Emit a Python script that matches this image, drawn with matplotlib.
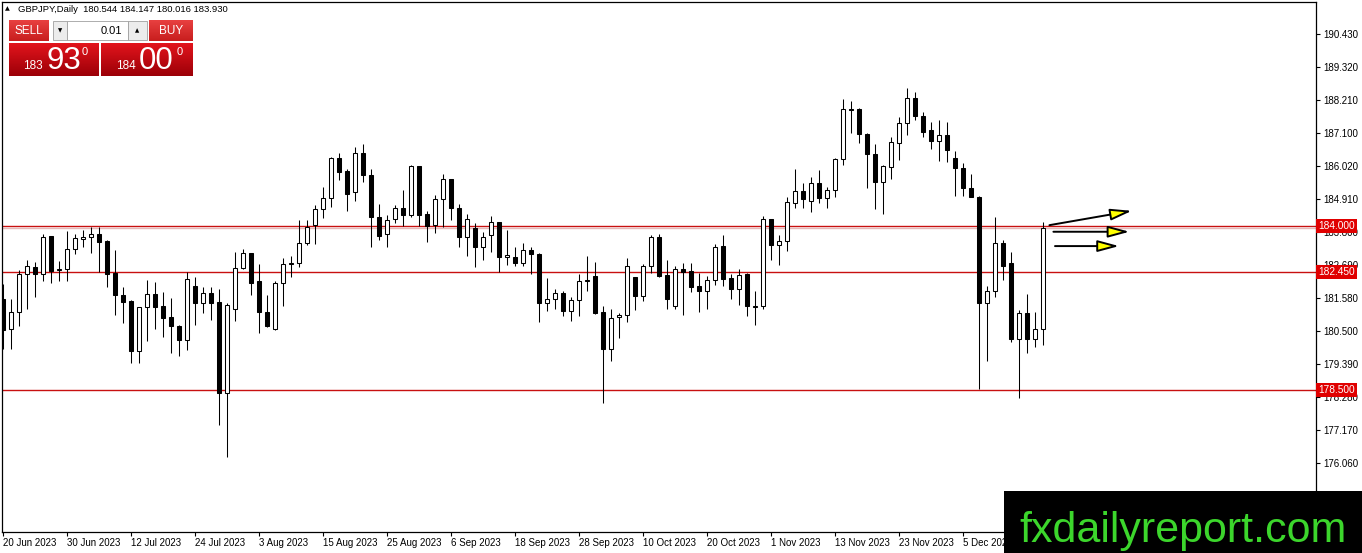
import numpy as np
import matplotlib
matplotlib.use('Agg')
import matplotlib.pyplot as plt
from matplotlib.patches import Rectangle, FancyArrowPatch
from matplotlib.colors import LinearSegmentedColormap
from matplotlib import font_manager

plt.rcParams['font.family'] = ['Liberation Sans', 'DejaVu Sans']
plt.rcParams['font.size'] = 7

symbol = 'GBPJPY,Daily'

# daily OHLC, 20 Jun 2023 .. 19 Dec 2023
opens = [181.56, 180.54, 181.14, 182.39, 182.62, 182.39, 183.66, 182.54, 182.55, 183.22,
         183.58, 183.62, 183.73, 183.51, 182.44, 181.68, 181.50, 179.83, 181.28, 181.71,
         181.32, 180.94, 180.65, 180.18, 181.99, 181.43, 181.75, 181.45, 178.40, 181.21,
         182.58, 183.09, 182.15, 181.14, 180.54, 182.10, 182.73, 182.75, 183.45, 184.03,
         184.56, 184.93, 186.27, 185.85, 185.13, 186.45, 185.71, 184.29, 183.72, 184.22,
         184.62, 184.38, 186.01, 184.40, 184.03, 184.89, 185.56, 184.62, 183.64, 183.92,
         183.31, 183.69, 184.13, 182.95, 182.95, 182.75, 183.20, 183.06, 181.43, 181.55,
         181.75, 181.16, 181.54, 182.16, 182.33, 181.12, 179.89, 180.94, 181.01, 182.28,
         181.67, 182.66, 183.62, 182.36, 181.32, 182.55, 182.48, 181.99, 181.83, 182.19,
         183.33, 182.25, 181.90, 182.39, 181.28, 181.32, 184.22, 183.35, 183.51, 184.76,
         185.18, 184.85, 185.43, 184.93, 185.21, 186.23, 187.91, 187.91, 187.08, 186.41,
         185.48, 185.99, 186.79, 187.44, 188.27, 187.68, 187.21, 186.86, 187.05, 186.29,
         185.93, 185.26, 184.96, 181.43, 181.84, 183.45, 182.75, 180.22, 181.08, 180.22,
         180.544]
highs = [182.05, 181.56, 182.53, 182.88, 182.79, 183.73, 183.66, 182.82, 183.82, 183.73,
         183.87, 183.98, 183.98, 183.55, 183.20, 181.95, 181.52, 181.30, 182.21, 182.12,
         181.79, 181.59, 180.69, 182.47, 182.30, 181.97, 181.97, 181.88, 181.43, 183.14,
         183.24, 183.11, 182.73, 181.69, 182.15, 182.92, 183.00, 184.20, 184.20, 184.70,
         185.32, 186.32, 186.43, 185.90, 186.63, 186.74, 185.90, 184.74, 184.37, 184.70,
         185.22, 186.04, 186.01, 184.50, 185.04, 185.74, 185.59, 184.74, 184.42, 184.09,
         183.81, 184.34, 184.13, 183.87, 183.29, 183.44, 183.29, 183.09, 182.25, 181.91,
         181.83, 181.61, 182.39, 183.00, 182.79, 181.32, 181.24, 181.08, 182.93, 182.28,
         182.73, 183.71, 183.75, 182.88, 182.68, 182.77, 182.77, 182.44, 182.33, 183.40,
         183.71, 182.39, 182.55, 182.44, 181.83, 184.33, 184.25, 183.70, 184.98, 185.90,
         185.43, 185.63, 185.87, 185.30, 186.27, 188.24, 188.20, 187.94, 187.12, 186.75,
         186.04, 186.97, 187.64, 188.61, 188.50, 187.83, 187.50, 187.55, 187.48, 186.50,
         186.12, 185.75, 185.00, 181.99, 184.29, 183.55, 183.12, 181.19, 181.72, 181.13,
         184.147]
lows = [179.87, 179.87, 180.65, 181.21, 181.63, 182.17, 182.10, 182.17, 182.15, 183.06,
        183.29, 183.11, 182.46, 181.97, 181.03, 180.74, 179.43, 179.43, 180.16, 180.54,
        180.29, 179.76, 179.65, 179.85, 180.69, 181.08, 180.85, 177.34, 176.28, 180.83,
        182.55, 181.69, 180.41, 180.61, 180.52, 181.33, 182.30, 182.64, 183.35, 183.40,
        184.26, 184.65, 185.54, 184.51, 184.85, 185.49, 183.31, 183.53, 183.31, 184.11,
        184.00, 184.31, 184.00, 183.48, 183.78, 183.98, 184.20, 183.31, 183.01, 182.62,
        182.88, 183.14, 182.47, 182.69, 182.66, 182.66, 182.41, 180.80, 181.17, 181.24,
        180.99, 180.83, 180.99, 181.83, 181.05, 178.09, 179.49, 180.24, 180.80, 181.19,
        181.50, 182.44, 182.28, 181.21, 181.24, 181.03, 181.80, 181.13, 181.21, 182.02,
        181.99, 181.57, 181.35, 180.99, 180.69, 181.24, 182.86, 182.69, 183.17, 184.62,
        184.62, 184.48, 184.78, 184.59, 184.96, 186.04, 187.12, 186.77, 185.26, 184.56,
        184.40, 185.56, 186.21, 187.05, 187.55, 186.99, 186.57, 186.19, 186.15, 185.00,
        185.00, 184.96, 178.56, 179.49, 181.63, 182.19, 180.13, 178.26, 179.76, 179.96,
        180.016]
closes = [180.52, 181.14, 182.39, 182.66, 182.39, 183.62, 182.50, 182.56, 183.22, 183.59,
          183.62, 183.73, 183.48, 182.41, 181.68, 181.47, 179.83, 181.28, 181.71, 181.28,
          180.93, 180.65, 180.18, 182.22, 181.43, 181.75, 181.43, 178.40, 181.36, 182.58,
          183.09, 182.10, 181.13, 180.66, 182.10, 182.72, 182.75, 183.45, 183.96, 184.56,
          184.93, 186.27, 185.82, 185.09, 186.45, 185.70, 184.29, 183.68, 184.20, 184.62,
          184.38, 186.01, 184.38, 184.00, 184.89, 185.56, 184.62, 183.64, 184.22, 183.31,
          183.64, 184.12, 182.95, 183.02, 182.75, 183.20, 183.05, 181.43, 181.55, 181.75,
          181.16, 181.54, 182.16, 182.18, 181.08, 179.89, 180.92, 181.02, 182.68, 181.67,
          182.66, 183.62, 182.33, 181.57, 182.55, 182.46, 181.97, 181.83, 182.21, 183.31,
          182.24, 181.90, 182.37, 181.32, 181.34, 184.22, 183.35, 183.51, 184.81, 185.18,
          184.89, 185.43, 184.93, 185.21, 186.23, 187.91, 187.89, 187.07, 186.41, 185.48,
          186.02, 186.81, 187.46, 188.27, 187.69, 187.16, 186.86, 187.04, 186.54, 185.93,
          185.26, 184.96, 181.43, 181.84, 183.45, 182.66, 180.22, 181.08, 180.22, 180.54,
          183.930]

date_labels = ['20 Jun 2023', '30 Jun 2023', '12 Jul 2023', '24 Jul 2023', '3 Aug 2023',
               '15 Aug 2023', '25 Aug 2023', '6 Sep 2023', '18 Sep 2023', '28 Sep 2023',
               '10 Oct 2023', '20 Oct 2023', '1 Nov 2023', '13 Nov 2023', '23 Nov 2023',
               '5 Dec 2023']
price_ticks = [190.430, 189.320, 188.210, 187.100, 186.020, 184.910, 183.800,
               182.690, 181.580, 180.500, 179.390, 178.280, 177.170, 176.060]
levels = [184.000, 182.450, 178.500]
bid = 183.930
ask = 184.000

# arrows drawn on the chart: (bar from, price from, bar to, price to)
arrows = [(130.8, 184.03, 141.1, 184.51),
          (131.3, 183.81, 140.8, 183.81),
          (131.5, 183.33, 139.5, 183.33)]

W, H = 1362, 553
fig = plt.figure(figsize=(W / 100, H / 100), dpi=100)
fig.patch.set_facecolor('white')
ax = fig.add_axes([2 / W, 21 / H, 1314 / W, 530 / H])

o = np.array(opens)
h = np.array(highs)
l = np.array(lows)
c = np.array(closes)
x = np.arange(len(o))
up = c >= o

ax.vlines(x, l, h, color='black', lw=0.75, zorder=2)
bottoms = np.minimum(o, c)
heights = np.maximum(np.abs(c - o), 0.01)
ax.bar(x, heights, bottom=bottoms, width=0.58,
       color=np.where(up, 'white', 'black'), edgecolor='black', lw=0.75, zorder=3)

for lv in levels:
    ax.axhline(lv, color='#c81010', lw=1.0, zorder=1)
ax.axhline(bid, color='#e6b8b8', lw=1.0, zorder=1)

for x0, y0, x1, y1 in arrows:
    arr = FancyArrowPatch((x0, y0), (x1, y1),
                          arrowstyle='-|>,head_length=1.3,head_width=0.35',
                          mutation_scale=10, fc='#ffff00', ec='black', lw=1.4,
                          shrinkA=0, shrinkB=0, zorder=5)
    ax.add_patch(arr)

ax.set_xlim(-0.125, 164.125)
ax.set_ylim(173.76, 191.50)

ax.set_xticks(np.arange(len(date_labels)) * 8)
ax.set_xticklabels(date_labels)
for lab in ax.get_xticklabels():
    lab.set_horizontalalignment('left')
ax.set_yticks(price_ticks)
ax.set_yticklabels(['%.3f' % p for p in price_ticks])
ax.tick_params(axis='x', direction='out', length=3, width=0.8, pad=1.5, labelsize=7)
ax.tick_params(axis='y', left=False, right=True, labelleft=False, labelright=True,
               direction='out', length=3, width=0.8, pad=2.5, labelsize=7)
for sp in ax.spines.values():
    sp.set_color('black')
    sp.set_linewidth(0.9)

ytr = ax.get_yaxis_transform()
for lv in levels:
    ax.text(1.0016, lv, '%.3f' % lv, transform=ytr, color='white', fontsize=7.3,
            ha='left', va='center', clip_on=False, zorder=6,
            bbox=dict(boxstyle='square,pad=0.2', fc='#e00000', ec='none'))

# overlay in pixel coordinates for the trade panel, header and logo
ov = fig.add_axes([0, 0, 1, 1], zorder=10)
ov.set_facecolor('none')
ov.axis('off')


def grad_box(x0, y0, x1, y1, top, bottom):
    cmap = LinearSegmentedColormap.from_list('g', [top, bottom])
    ov.imshow(np.linspace(0, 1, 32).reshape(-1, 1), cmap=cmap,
              extent=(x0, x1, y1, y0), aspect='auto', interpolation='bilinear', zorder=1)


ov.text(5, 9, '\u25b2', fontsize=4.5, family=['DejaVu Sans'], va='center', ha='left')
ov.text(18, 9, '%s  %.3f %.3f %.3f %.3f' % (symbol, opens[-1], highs[-1], lows[-1], closes[-1]),
        fontsize=6.8, va='center', ha='left')

grad_box(9, 20, 49, 41, '#e84040', '#c81e1e')
grad_box(149, 20, 193, 41, '#e84040', '#c81e1e')
grad_box(9, 43, 99, 76, '#e2141c', '#9c0008')
grad_box(101, 43, 193, 76, '#e2141c', '#9c0008')
ov.add_patch(Rectangle((53, 21), 14, 19, fc='#ececec', ec='#a0a0a0', lw=0.6, zorder=2))
ov.add_patch(Rectangle((67, 21), 61, 19, fc='white', ec='#a0a0a0', lw=0.6, zorder=2))
ov.add_patch(Rectangle((128, 21), 19, 19, fc='#ececec', ec='#a0a0a0', lw=0.6, zorder=2))
ov.text(29, 31, 'SELL', color='white', fontsize=8.5, ha='center', va='center', zorder=3)
ov.text(171, 31, 'BUY', color='white', fontsize=8.5, ha='center', va='center', zorder=3)
ov.text(122, 31, '0.01', color='black', fontsize=8, ha='right', va='center', zorder=3)
ov.text(60, 31, '\u25bc', fontsize=4, family=['DejaVu Sans'], ha='center', va='center', zorder=3)
ov.text(137.5, 31, '\u25b2', fontsize=4, family=['DejaVu Sans'], ha='center', va='center', zorder=3)

bid_s = '%.3f' % bid
ask_s = '%.3f' % ask
ov.text(23, 69, bid_s[:3], color='white', fontsize=8.5, ha='left', va='baseline', zorder=3)
ov.text(46, 69, bid_s[4:6], color='white', fontsize=22.5, ha='left', va='baseline', zorder=3)
ov.text(82, 55, bid_s[6], color='white', fontsize=8, ha='left', va='baseline', zorder=3)
ov.text(116, 69, ask_s[:3], color='white', fontsize=8.5, ha='left', va='baseline', zorder=3)
ov.text(139, 69, ask_s[4:6], color='white', fontsize=22.5, ha='left', va='baseline', zorder=3)
ov.text(177, 55, ask_s[6], color='white', fontsize=8, ha='left', va='baseline', zorder=3)

names = {f.name for f in font_manager.fontManager.ttflist}
if 'Liberation Sans Narrow' in names:
    logo_family, logo_size = ['Liberation Sans Narrow'], 36
else:
    logo_family, logo_size = ['Liberation Sans'], 31
ov.add_patch(Rectangle((1004, 491), 358, 62, fc='black', ec='none', zorder=2))
ov.text(1183, 542, 'fxdailyreport.com', color='#3cd62c', fontsize=logo_size,
        family=logo_family, ha='center', va='baseline', zorder=3)

ov.set_xlim(0, W)
ov.set_ylim(H, 0)

fig.savefig('out.png', dpi=100)
